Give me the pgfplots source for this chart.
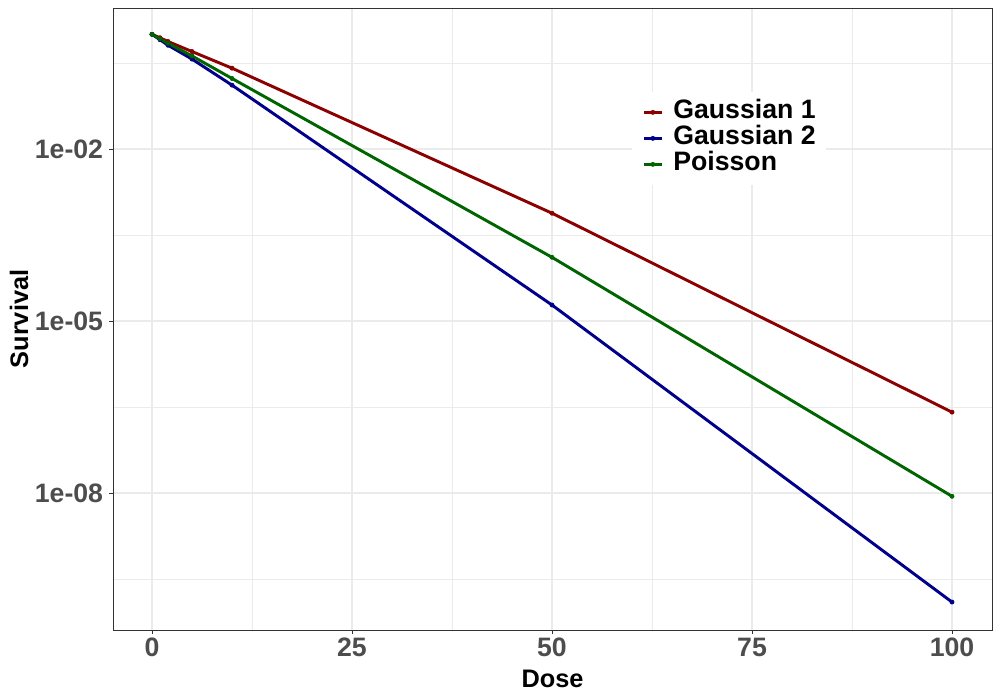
\documentclass[border=0pt]{standalone}
\usepackage{fontspec}
\setmainfont{Liberation Sans}
\usepackage{pgfplots}
\pgfplotsset{compat=1.18}
\definecolor{gone}{HTML}{8B0000}
\definecolor{gtwo}{HTML}{00008B}
\definecolor{pois}{HTML}{006400}
\definecolor{gridc}{HTML}{EBEBEB}
\definecolor{tickc}{HTML}{4D4D4D}
\definecolor{framec}{HTML}{333333}
\pgfplotstableread{
dose surv
0 1
1 0.871
2 0.750
5 0.501
10 0.257
50 7.59e-4
100 2.57e-7
}\gaussone
\pgfplotstableread{
dose surv
0 1
1 0.805
2 0.646
5 0.370
10 0.130
50 1.90e-5
100 1.25e-10
}\gausstwo
\pgfplotstableread{
dose surv
0 1
1 0.835
2 0.700
5 0.420
10 0.170
50 1.29e-4
100 8.75e-9
}\poisson
\begin{document}
\begin{tikzpicture}
\path[use as bounding box] (0,0) rectangle (750pt,525pt);
\begin{axis}[
  at={(84.75pt,52.5pt)}, anchor=south west,
  scale only axis, width=659.25pt, height=466.5pt,
  xmin=-4.875, xmax=105,
  ymode=log, ymin=4.07e-11, ymax=2.88,
  xtick={0,25,50,75,100},
  minor xtick={12.5,37.5,62.5,87.5},
  ytick={1e-2,1e-5,1e-8},
  yticklabels={1e-02,1e-05,1e-08},
  minor ytick={0.3162,3.162e-4,3.162e-7,3.162e-10},
  grid=both,
  major grid style={color=gridc, line width=0.8pt},
  minor grid style={color=gridc, line width=0.4pt},
  axis line style={color=framec, line width=0.5pt},
  tick align=outside,
  xtick pos=left, ytick pos=left,
  major tick length=2.75pt, minor tick length=0pt,
  tick style={color=framec, line width=0.6pt},
  ticklabel style={font=\fontsize{20}{24}\selectfont\bfseries, color=tickc},
  xticklabel style={inner sep=3pt},
  yticklabel style={inner sep=4.5pt},
  /pgf/number format/assume math mode=true,
  xlabel={Dose}, ylabel={Survival},
  label style={font=\fontsize{19}{23}\selectfont\bfseries, color=black},
  xlabel style={at={(axis description cs:0.5,-0.0932)}, anchor=base},
  ylabel style={at={(axis description cs:-0.0967,0.5)}, anchor=base},
  legend image code/.code={\draw[mark repeat=2, mark phase=2] plot coordinates {(0pt,0pt) (6.75pt,0pt) (13.5pt,0pt)};},
  legend style={at={(rel axis cs:0.5906,0.866)}, anchor=north west, fill=white, draw=none,
    font=\fontsize{20}{24}\selectfont\bfseries,
    nodes={inner sep=0pt, text height=14.5pt, text depth=5pt},
    row sep=0pt, column sep=7.5pt, inner xsep=7.5pt, inner ysep=5.8pt},
  legend cell align=left,
]
\addplot[gone, line width=2.2pt, mark=*, mark size=1.6pt, mark options={line width=0.4pt}] table[x=dose,y=surv] {\gaussone};
\addlegendentry{Gaussian 1}
\addplot[gtwo, line width=2.2pt, mark=*, mark size=1.6pt, mark options={line width=0.4pt}] table[x=dose,y=surv] {\gausstwo};
\addlegendentry{Gaussian 2}
\addplot[pois, line width=2.2pt, mark=*, mark size=1.6pt, mark options={line width=0.4pt}] table[x=dose,y=surv] {\poisson};
\addlegendentry{Poisson}
\end{axis}
\end{tikzpicture}
\end{document}
